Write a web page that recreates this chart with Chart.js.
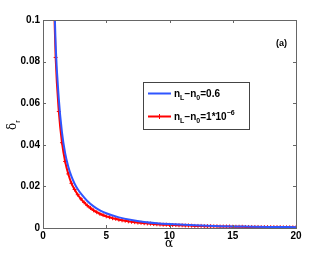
<!DOCTYPE html>
<html>
<head>
<meta charset="utf-8">
<script src="https://cdn.jsdelivr.net/npm/chart.js@4"></script>
<style>
  html, body { margin: 0; padding: 0; background: #fff; }
  #wrap { width: 327px; height: 257px; }
</style>
</head>
<body>
<div id="wrap"><canvas id="grafico" width="327" height="257"></canvas></div>
<script>
// valores
const alphaAzul = [0.75, 1, 1.25, 1.5, 1.75, 2, 2.25, 2.5, 2.75, 3, 3.5, 4, 4.5, 5, 6, 7, 8, 9, 10, 12, 14, 16, 18, 20];
const deltaAzul = [0.14, 0.088, 0.062, 0.046, 0.036, 0.0295, 0.0248, 0.0213, 0.0186, 0.0165, 0.0130, 0.0104, 0.0085, 0.0071, 0.0051, 0.0038, 0.0029, 0.0023, 0.0019, 0.0013, 0.0009, 0.0007, 0.0005, 0.0004];

const alphaVermelho = [0.75, 1, 1.25, 1.5, 1.75, 2, 2.25, 2.5, 2.75, 3, 3.25, 3.5, 3.75, 4, 4.25, 4.5, 4.75, 5,
  5.25, 5.5, 5.75, 6, 6.25, 6.5, 6.75, 7, 7.25, 7.5, 7.75, 8, 8.25, 8.5, 8.75, 9, 9.25, 9.5, 9.75, 10,
  10.25, 10.5, 10.75, 11, 11.25, 11.5, 11.75, 12, 12.25, 12.5, 12.75, 13, 13.25, 13.5, 13.75, 14,
  14.25, 14.5, 14.75, 15, 15.25, 15.5, 15.75, 16, 16.25, 16.5, 16.75, 17, 17.25, 17.5, 17.75, 18,
  18.25, 18.5, 18.75, 19, 19.25, 19.5, 19.75, 20];
const deltaVermelho = [0.135, 0.082, 0.056, 0.041, 0.032, 0.026, 0.0215, 0.0185, 0.016, 0.014, 0.0123, 0.0108, 0.0096, 0.0085, 0.0076, 0.0068, 0.0062, 0.0056,
  0.0052, 0.0047, 0.0044, 0.0040, 0.0037, 0.0035, 0.0032, 0.0030, 0.0028, 0.0026, 0.0025, 0.0023, 0.0022, 0.0021, 0.0019, 0.0018, 0.0017, 0.0016, 0.0016, 0.0015,
  0.0014, 0.0014, 0.0013, 0.0013, 0.0012, 0.0012, 0.0011, 0.0010, 0.0010, 0.0010, 0.0009, 0.0009, 0.0009, 0.0008, 0.0008, 0.0007,
  0.0007, 0.0007, 0.0007, 0.0006, 0.0006, 0.0006, 0.0006, 0.0005, 0.0005, 0.0005, 0.0005, 0.0005, 0.0004, 0.0004, 0.0004, 0.0004,
  0.0004, 0.0004, 0.0004, 0.0003, 0.0003, 0.0003, 0.0003, 0.0003];

const xTicks = [0, 5, 10, 15, 20];
const yTicks = [0, 0.02, 0.04, 0.06, 0.08, 0.1];

const AZUL = "#2f55ff";
const VERMELHO = "#ff0000";
const FONTE = "bold 10px 'Liberation Sans', Arial, sans-serif";

function pares(xs, ys) {
  return xs.map((x, i) => ({ x: x, y: ys[i] }));
}

// texto com subscrito / sobrescrito simples
function textoPartes(ctx, partes, x, y) {
  let cx = x;
  partes.forEach(p => {
    ctx.font = p.f || FONTE;
    ctx.fillText(p.t, cx, y + (p.dy || 0));
    cx += ctx.measureText(p.t).width;
  });
  return cx;
}

const extras = {
  id: "extras",
  afterDraw(chart) {
    const ctx = chart.ctx;
    const a = chart.chartArea;
    const sx = chart.scales.x, sy = chart.scales.y;
    ctx.save();
    // moldura
    ctx.strokeStyle = "#666";
    ctx.lineWidth = 1;
    ctx.strokeRect(Math.round(a.left) + 0.5, Math.round(a.top) + 0.5, Math.round(a.right - a.left), Math.round(a.bottom - a.top));
    // ticks para dentro
    xTicks.forEach(v => {
      const px = Math.round(sx.getPixelForValue(v)) + 0.5;
      ctx.beginPath();
      ctx.moveTo(px, a.bottom); ctx.lineTo(px, a.bottom - 3);
      ctx.moveTo(px, a.top); ctx.lineTo(px, a.top + 3);
      ctx.stroke();
    });
    yTicks.forEach(v => {
      const py = Math.round(sy.getPixelForValue(v)) + 0.5;
      ctx.beginPath();
      ctx.moveTo(a.left, py); ctx.lineTo(a.left + 3, py);
      ctx.moveTo(a.right, py); ctx.lineTo(a.right - 3, py);
      ctx.stroke();
    });

    ctx.fillStyle = "#000";
    ctx.textBaseline = "alphabetic";
    ctx.textAlign = "left";
    // (a)
    ctx.font = "bold 9px 'Liberation Sans', Arial, sans-serif";
    ctx.fillText("(a)", 276, 46);

    // titulo eixo x
    ctx.font = "12px 'DejaVu Serif', serif";
    ctx.textAlign = "center";
    ctx.fillText("α", 169, 247);

    // titulo eixo y
    ctx.save();
    ctx.translate(16, 124);
    ctx.rotate(-Math.PI / 2);
    ctx.textAlign = "left";
    textoPartes(ctx, [
      { t: "δ", f: "12px 'DejaVu Serif', serif" },
      { t: "r", f: "8px 'Liberation Sans', Arial, sans-serif", dy: 4 }
    ], -6, 0);
    ctx.restore();

    // legenda
    ctx.fillStyle = "#fff";
    ctx.fillRect(143, 82, 106, 47);
    ctx.strokeStyle = "#444";
    ctx.strokeRect(143.5, 82.5, 106, 47);
    ctx.lineWidth = 2;
    ctx.strokeStyle = AZUL;
    ctx.beginPath(); ctx.moveTo(148, 93.5); ctx.lineTo(171, 93.5); ctx.stroke();
    ctx.strokeStyle = VERMELHO;
    ctx.beginPath(); ctx.moveTo(148, 116.5); ctx.lineTo(171, 116.5); ctx.stroke();
    ctx.lineWidth = 1;
    ctx.beginPath(); ctx.moveTo(159.5, 114); ctx.lineTo(159.5, 119); ctx.stroke();

    ctx.fillStyle = "#000";
    ctx.textAlign = "left";
    const sub = "bold 7px 'Liberation Sans', Arial, sans-serif";
    textoPartes(ctx, [
      { t: "n" }, { t: "L", f: sub, dy: 3 }, { t: "−n" }, { t: "0", f: sub, dy: 3 }, { t: "=0.6" }
    ], 174, 97);
    textoPartes(ctx, [
      { t: "n" }, { t: "L", f: sub, dy: 3 }, { t: "−n" }, { t: "0", f: sub, dy: 3 }, { t: "=1*10" }, { t: "−6", f: sub, dy: -5 }
    ], 174, 120);
    ctx.restore();
  }
};

new Chart(document.getElementById("grafico"), {
  type: "line",
  data: {
    datasets: [
      {
        label: "nL-n0=0.6",
        data: pares(alphaAzul, deltaAzul),
        borderColor: AZUL,
        borderWidth: 2,
        pointRadius: 0,
        cubicInterpolationMode: "monotone"
      },
      {
        label: "nL-n0=1*10^-6",
        data: pares(alphaVermelho, deltaVermelho),
        borderColor: VERMELHO,
        borderWidth: 2,
        pointRadius: 2,
        pointStyle: "cross",
        pointBorderColor: VERMELHO,
        pointBorderWidth: 1,
        cubicInterpolationMode: "monotone"
      }
    ]
  },
  options: {
    responsive: false,
    animation: false,
    events: [],
    layout: { padding: { top: 20, right: 31, left: 0, bottom: 0 } },
    plugins: { legend: { display: false }, tooltip: { enabled: false } },
    scales: {
      x: {
        type: "linear",
        min: 0, max: 20,
        afterBuildTicks: s => { s.ticks = xTicks.map(v => ({ value: v })); },
        afterFit: s => { s.height = 29; },
        grid: { drawOnChartArea: false, drawTicks: false },
        border: { display: false },
        ticks: { color: "#000", font: { family: "'Liberation Sans', Arial", size: 10, weight: "bold" }, padding: 2, maxRotation: 0 }
      },
      y: {
        min: 0, max: 0.1,
        afterBuildTicks: s => { s.ticks = yTicks.map(v => ({ value: v })); },
        afterFit: s => { s.width = 43; },
        grid: { drawOnChartArea: false, drawTicks: false },
        border: { display: false },
        ticks: {
          color: "#000", font: { family: "'Liberation Sans', Arial", size: 10, weight: "bold" }, padding: 3,
          callback: v => String(Number(v.toFixed(2)))
        }
      }
    }
  },
  plugins: [extras]
});
</script>
</body>
</html>
